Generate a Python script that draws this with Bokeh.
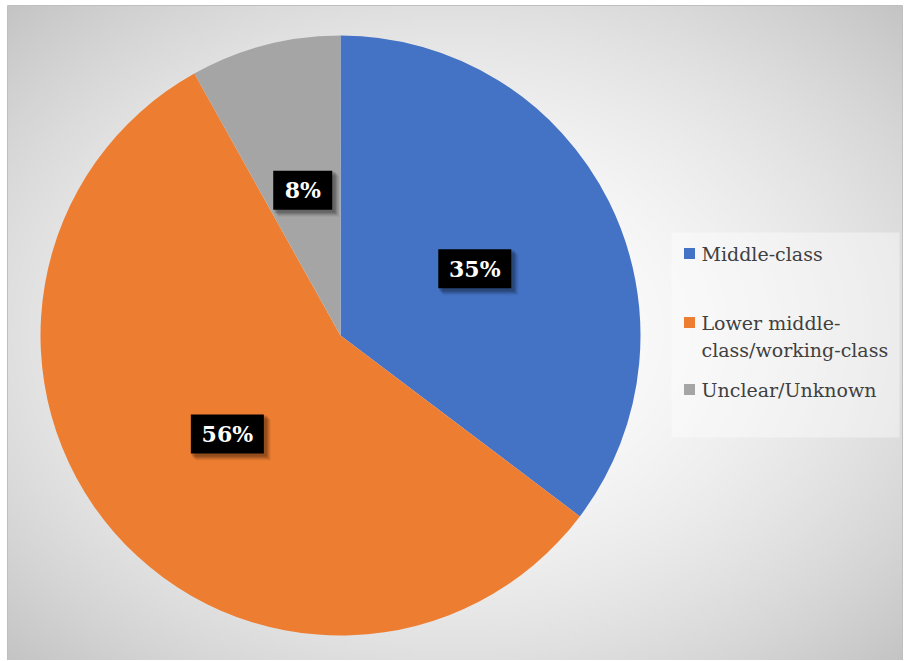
import numpy as np
from bokeh.plotting import figure
from bokeh.models import Range1d, ColumnDataSource
from bokeh.core.properties import value
from bokeh.embed import file_html
from bokeh.resources import INLINE

# ---- data ----
categories = ["Middle-class", "Lower middle-class/working-class", "Unclear/Unknown"]
shares = [35.3, 56.6, 8.1]
labels = ["35%", "56%", "8%"]
colors = ["#4472C4", "#ED7D31", "#A5A5A5"]
legend_lines = [["Middle-class"], ["Lower middle-", "class/working-class"], ["Unclear/Unknown"]]

W, H = 903, 660
SERIF = value("DejaVu Serif")
cx, cy, R = 340, H - 335, 300

p = figure(width=W, height=H, output_backend="svg", toolbar_location=None,
           x_range=Range1d(0, W), y_range=Range1d(0, H), min_border=0)
p.axis.visible = False
p.grid.visible = False
p.outline_line_color = None
p.background_fill_color = "white"
p.border_fill_color = "white"

# ---- radial gradient background (chart area) ----
x0, x1, y0, y1 = 7, 902, 0, H - 5
cw, ch = x1 - x0, y1 - y0
nx, ny = cw // 2, ch // 2
gx = (np.arange(nx) + 0.5) * cw / nx
gy = (np.arange(ny) + 0.5) * ch / ny
X, Y = np.meshgrid(gx, gy)
t = np.sqrt(((X - cw / 2) / (cw / 2)) ** 2 + ((Y - ch / 2) / (ch / 2)) ** 2) / np.sqrt(2)
t = np.clip(t, 0, 1) ** 1.8
g = (255 - t * (255 - 196)).astype(np.uint8)
img = np.empty((ny, nx), dtype=np.uint32)
view = img.view(dtype=np.uint8).reshape((ny, nx, 4))
view[:, :, 0] = g
view[:, :, 1] = g
view[:, :, 2] = g
view[:, :, 3] = 255
p.image_rgba(image=[img], x=x0, y=y0, dw=cw, dh=ch)
p.rect(x=(x0 + x1) / 2, y=(y0 + y1) / 2, width=cw, height=ch, fill_color=None,
       line_color="#BFBFBF", line_width=1)

# ---- pie ----
frac = np.array(shares) / sum(shares)
cum = np.concatenate([[0.0], np.cumsum(frac)])
start = np.pi / 2 - 2 * np.pi * cum[:-1]
end = np.pi / 2 - 2 * np.pi * cum[1:]
src = ColumnDataSource(dict(start=start, end=end, color=colors, cat=categories))
p.wedge(x=cx, y=cy, radius=R, start_angle="start", end_angle="end",
        direction="clock", fill_color="color", line_color=None, source=src)

# ---- data labels ----
mid = (start + end) / 2
lx = cx + 0.5 * R * np.cos(mid)
ly = cy + 0.5 * R * np.sin(mid)
bw = np.array([14 * (len(s) - 1) + 29 + 16 for s in labels])
bh = 39
for k, a in [(6, 0.05), (5, 0.07), (4, 0.09), (3, 0.11), (2, 0.12)]:
    p.rect(x=lx + k, y=ly - k, width=bw + 2, height=bh + 2, fill_color="black",
           fill_alpha=a, line_color=None)
p.rect(x=lx, y=ly, width=bw, height=bh, fill_color="black", line_color=None)
p.text(x=lx, y=ly, text=labels, text_color="white", text_font=SERIF,
       text_font_style="bold", text_font_size="22px", text_align="center",
       text_baseline="middle")

# ---- legend ----
p.rect(x=(671 + 899) / 2, y=H - (232 + 437) / 2, width=899 - 671, height=437 - 232,
       fill_color="white", fill_alpha=0.4, line_color=None)
sq_y = [H - 253, H - 322, H - 389]
p.rect(x=[689] * 3, y=sq_y, width=11, height=11, fill_color=colors, line_color=None)
tx, ty, tt = [], [], []
for i, lines in enumerate(legend_lines):
    for j, s in enumerate(lines):
        tx.append(701)
        ty.append(sq_y[i] - 27 * j)
        tt.append(s)
p.text(x=tx, y=ty, text=tt, text_color="#404040", text_font=SERIF,
       text_font_size="19px", text_align="left", text_baseline="middle")

open("out.html", "w").write(file_html(p, INLINE))
